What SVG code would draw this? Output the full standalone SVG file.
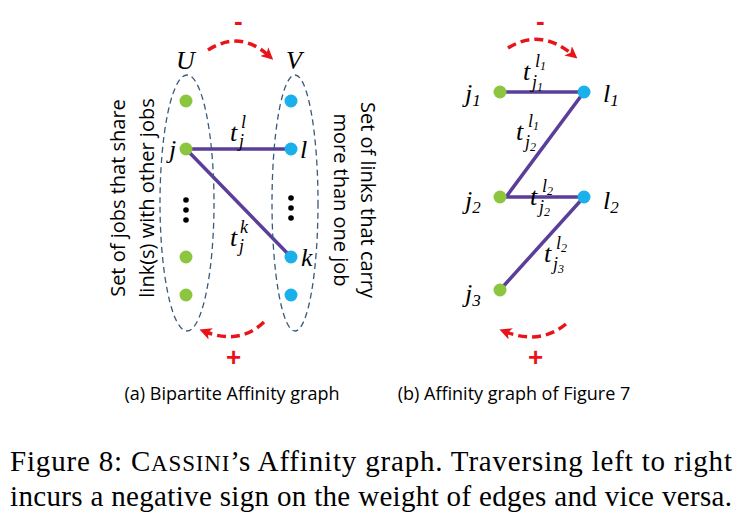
<svg xmlns="http://www.w3.org/2000/svg" width="754" height="528" viewBox="0 0 754 528">
<style>
.g{fill:#8cc63f}.b{fill:#1ab0ea}.e{stroke:#5b3e9a;stroke-width:3.5;fill:none}
.ell{fill:none;stroke:#3b5a7a;stroke-width:1.3;stroke-dasharray:6 4}
.arc{fill:none;stroke:#e8141a;stroke-width:3.5;stroke-dasharray:9 5}
.m{font-family:"Liberation Serif",serif;font-style:italic;font-size:26px}
.s{font-family:"Liberation Serif",serif;font-style:italic;font-size:18px}
.sans{font-family:"Open Sans","Liberation Sans",sans-serif;font-size:20px}
.cs{font-family:"Open Sans","Liberation Sans",sans-serif;font-size:18px}
.r{fill:#e8141a;font-family:"Liberation Sans",sans-serif;font-size:26px;font-weight:bold}
.cap{font-family:"Liberation Serif",serif;font-size:29px}
</style>
<defs><marker id="ah" markerWidth="12" markerHeight="12" refX="5" refY="6" orient="auto" markerUnits="userSpaceOnUse"><path d="M0,0 L12,6 L0,12 L3,6 Z" fill="#e8141a"/></marker></defs>
<rect width="754" height="528" fill="#fff"/>
<g id="connectors">
<line class="e" x1="186" y1="149" x2="291" y2="149"/>
<line class="e" x1="186" y1="149" x2="291" y2="257"/>
<polyline class="e" points="500,92 584,92 506,197 584,197 500,290"/>
<path class="arc" d="M208,50 Q240,30 268,55" marker-end="url(#ah)"/>
<path class="arc" d="M264,322 Q240,345 206,332" marker-end="url(#ah)"/>
<path class="arc" d="M508,48 Q540,28 572,54" marker-end="url(#ah)"/>
<path class="arc" d="M566,324 Q540,345 506,332" marker-end="url(#ah)"/>
</g>
<g id="setU"><ellipse class="ell" cx="187" cy="203" rx="27" ry="128"/><text class="m" x="176" y="69">U</text>
<text class="sans" transform="translate(125,198) rotate(-90)" text-anchor="middle">Set of jobs that share</text>
<text class="sans" transform="translate(154,198) rotate(-90)" text-anchor="middle">link(s) with other jobs</text></g>
<g id="setV"><ellipse class="ell" cx="295" cy="203" rx="23" ry="128"/><text class="m" x="286" y="69">V</text>
<text class="sans" transform="translate(361,200) rotate(90)" text-anchor="middle">Set of links that carry</text>
<text class="sans" transform="translate(334,200) rotate(90)" text-anchor="middle">more than one job</text></g>
<g id="u-nodes"><circle class="g" cx="186" cy="101" r="6.5"/><circle class="g" cx="186" cy="149" r="6.5"/><circle class="g" cx="186" cy="257" r="6.5"/><circle class="g" cx="186" cy="295" r="6.5"/>
<circle cx="186" cy="200" r="2.8"/><circle cx="186" cy="210" r="2.8"/><circle cx="186" cy="220" r="2.8"/>
<text class="m" x="169" y="158">j</text></g>
<g id="v-nodes"><circle class="b" cx="291" cy="101" r="6.5"/><circle class="b" cx="291" cy="149" r="6.5"/><circle class="b" cx="291" cy="257" r="6.5"/><circle class="b" cx="291" cy="295" r="6.5"/>
<circle cx="291" cy="198" r="2.8"/><circle cx="291" cy="208" r="2.8"/><circle cx="291" cy="218" r="2.8"/>
<text class="m" x="300" y="158">l</text><text class="m" x="301" y="266">k</text></g>
<g id="labels-a"><text class="m" x="230" y="141">t</text><text class="s" x="239" y="147">j</text><text class="s" x="241" y="128">l</text>
<text class="m" x="230" y="246">t</text><text class="s" x="239" y="252">j</text><text class="s" x="240" y="233">k</text>
<text class="r" x="234" y="30">-</text><text class="r" x="226" y="366">+</text></g>
<g id="graph-b">
<circle class="g" cx="500" cy="92" r="6.5"/><circle class="b" cx="584" cy="92" r="6.5"/>
<circle class="g" cx="500" cy="197" r="6.5"/><circle class="b" cx="584" cy="197" r="6.5"/>
<circle class="g" cx="500" cy="290" r="6.5"/>
<text class="m" x="465" y="102">j<tspan font-size="17" dy="4">1</tspan></text>
<text class="m" x="465" y="209">j<tspan font-size="17" dy="4">2</tspan></text>
<text class="m" x="465" y="302">j<tspan font-size="17" dy="4">3</tspan></text>
<text class="m" x="603" y="102">l<tspan font-size="17" dy="4">1</tspan></text>
<text class="m" x="603" y="209">l<tspan font-size="17" dy="4">2</tspan></text>
<text class="m" x="523" y="80">t</text><text class="s" x="532" y="88">j<tspan font-size="12" dy="3">1</tspan></text><text class="s" x="535" y="67">l<tspan font-size="12" dy="3">1</tspan></text>
<text class="m" x="516" y="140">t</text><text class="s" x="525" y="148">j<tspan font-size="12" dy="3">2</tspan></text><text class="s" x="528" y="127">l<tspan font-size="12" dy="3">1</tspan></text>
<text class="m" x="530" y="205">t</text><text class="s" x="539" y="213">j<tspan font-size="12" dy="3">2</tspan></text><text class="s" x="542" y="192">l<tspan font-size="12" dy="3">2</tspan></text>
<text class="m" x="544" y="262">t</text><text class="s" x="553" y="270">j<tspan font-size="12" dy="3">3</tspan></text><text class="s" x="556" y="249">l<tspan font-size="12" dy="3">2</tspan></text>
<text class="r" x="536" y="30">-</text><text class="r" x="528" y="366">+</text></g>
<g id="captions">
<text class="cs" x="232" y="400" text-anchor="middle">(a) Bipartite Affinity graph</text>
<text class="cs" x="514" y="400" text-anchor="middle">(b) Affinity graph of Figure 7</text>
<text class="cap" x="10" y="471" textLength="722" lengthAdjust="spacing">Figure 8: C<tspan font-size="23">ASSINI</tspan>’s Affinity graph. Traversing left to right</text>
<text class="cap" x="10" y="506" textLength="722" lengthAdjust="spacing">incurs a negative sign on the weight of edges and vice versa.</text>
</g>
</svg>
